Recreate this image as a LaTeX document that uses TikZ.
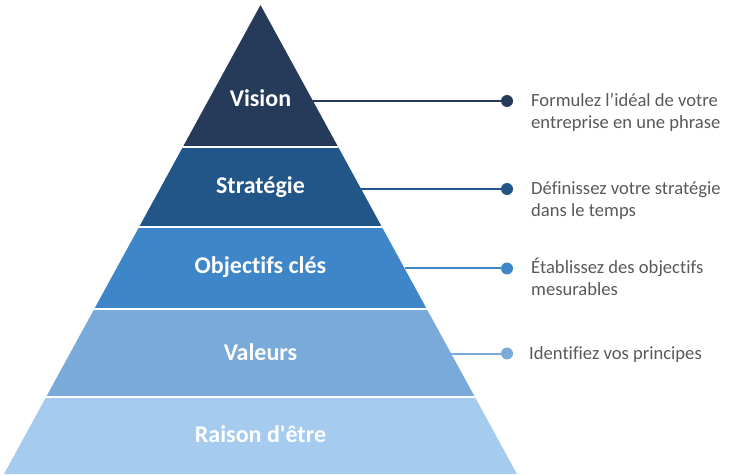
\documentclass[tikz,border=0pt]{standalone}
\usepackage{fontspec}
\setmainfont{Carlito}[Ligatures={TeXOff,CommonOff}]
\definecolor{cVision}{HTML}{263A5A}
\definecolor{cStrat}{HTML}{225588}
\definecolor{cObj}{HTML}{3F86C8}
\definecolor{cVal}{HTML}{7AAAD9}
\definecolor{cRais}{HTML}{A5CBEF}
\definecolor{txtgray}{HTML}{595959}
\tikzset{
  lvl/.style={text=white, font=\fontsize{24}{28}\selectfont\bfseries, anchor=base, inner sep=0pt},
  dotnode/.style={circle, fill=#1, minimum size=12pt, inner sep=0pt},
  conn/.style={draw=#1, line width=2pt},
  desc/.style={text=txtgray, font=\fontsize{18.6}{22.3}\selectfont, anchor=base west, inner sep=0pt},
  sep/.style={draw=white, line width=2pt}
}
\begin{document}
\begin{tikzpicture}[x=1pt,y=-1pt]
\useasboundingbox (0,0) rectangle (740,476);
\coordinate (apex) at (260.5,5);
\coordinate (bl) at (4,474);
\coordinate (br) at (517,474);
\begin{scope}
  \clip (apex) -- (br) -- (bl) -- cycle;
  \fill[cVision] (0,0) rectangle (740,147);
  \fill[cStrat] (0,147) rectangle (740,227);
  \fill[cObj] (0,227) rectangle (740,309);
  \fill[cVal] (0,309) rectangle (740,397);
  \fill[cRais] (0,397) rectangle (740,476);
  \draw[sep] (0,147) -- (740,147);
  \draw[sep] (0,227) -- (740,227);
  \draw[sep] (0,309) -- (740,309);
  \draw[sep] (0,397) -- (740,397);
\end{scope}
% labels
\node[lvl] (lv) at (260.5,106.7) {Vision};
\node[lvl] (ls) at (260.5,193.3) {Stratégie};
\node[lvl] (lo) at (260.5,273.3) {Objectifs clés};
\node[lvl] (lva) at (260.5,360) {Valeurs};
\node[lvl] (lr) at (260.5,442.3) {Raison d'être};
% edge points
\coordinate (ev) at ({260.5+0.5469*(101-5)},101);
\coordinate (es) at ({260.5+0.5469*(189-5)},189);
\coordinate (eo) at ({260.5+0.5469*(268.5-5)},268.5);
\coordinate (eva) at ({260.5+0.5469*(353.5-5)},353.5);
% dots
\node[dotnode=cVision] (dv) at (507,101) {};
\node[dotnode=cStrat] (ds) at (507,189) {};
\node[dotnode=cObj] (do) at (507,268.5) {};
\node[dotnode=cVal] (dva) at (507,353.5) {};
\draw[conn=cVision] (ev) -- (dv);
\draw[conn=cStrat] (es) -- (ds);
\draw[conn=cObj] (eo) -- (do);
\draw[conn=cVal] (eva) -- (dva);
% descriptions
\node[desc] (tv) at (531,106.5) {\begin{tabular}[t]{@{}l@{}}Formulez l’idéal de votre\\entreprise en une phrase\end{tabular}};
\node[desc] (ts) at (531,194.5) {\begin{tabular}[t]{@{}l@{}}Définissez votre stratégie\\dans le temps\end{tabular}};
\node[desc] (to) at (531,273) {\begin{tabular}[t]{@{}l@{}}Établissez des objectifs\\mesurables\end{tabular}};
\node[desc] (tva) at (529,359.5) {Identifiez vos principes};
\end{tikzpicture}
\end{document}
